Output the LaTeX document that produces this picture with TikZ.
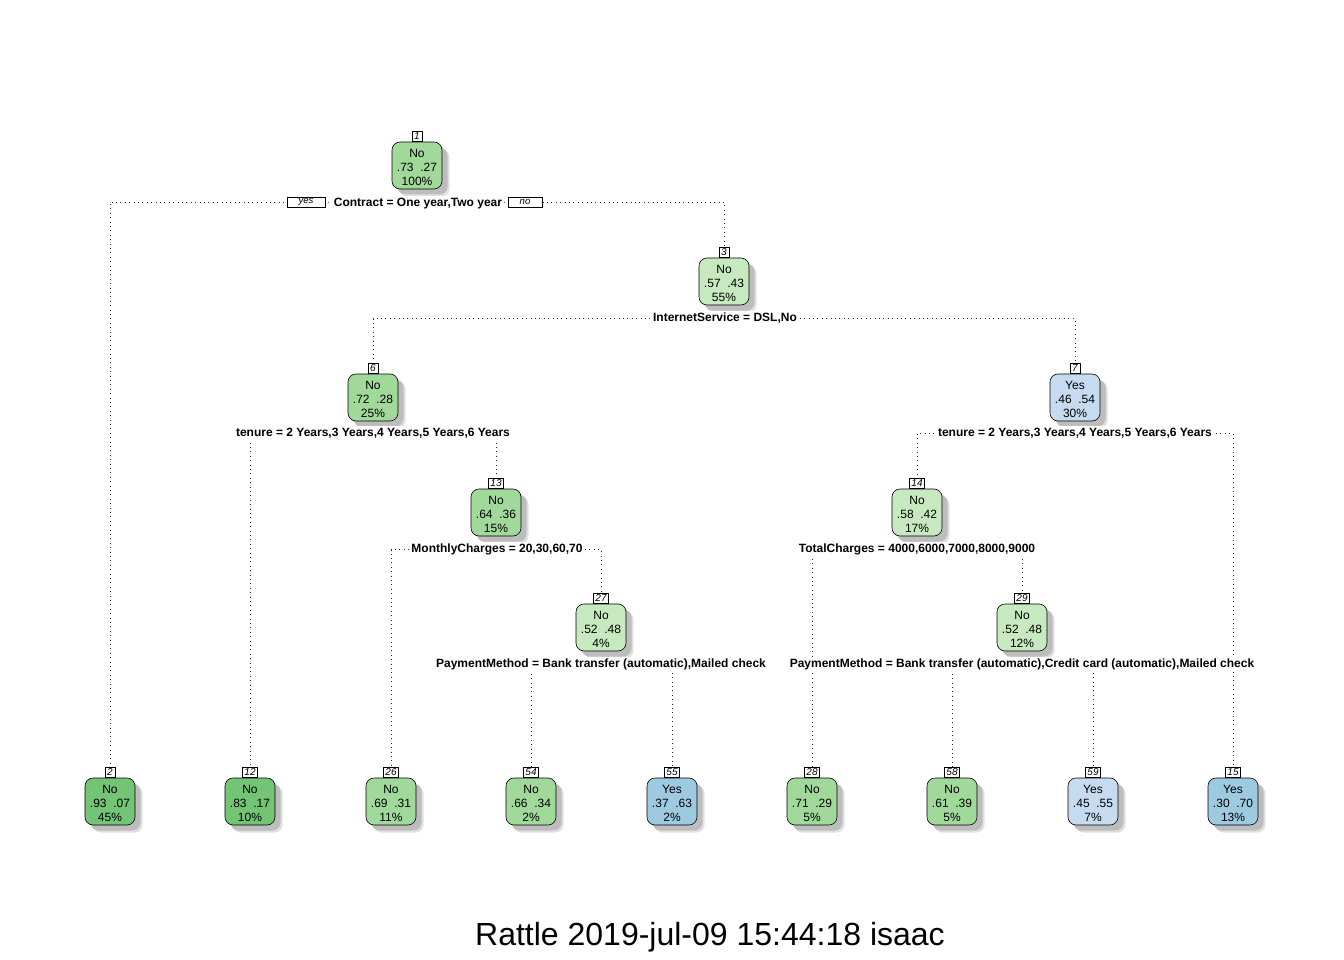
\documentclass[tikz,border=0pt]{standalone}
\usepackage{fontspec}
\setmainfont{Liberation Sans}
\usetikzlibrary{shadows}
\pgfdeclarelayer{bg}
\pgfsetlayers{bg,main}
\definecolor{gdark}{HTML}{74C476}
\definecolor{gmid}{HTML}{A1D99B}
\definecolor{glight}{HTML}{C7E9C0}
\definecolor{blight}{HTML}{C6DBEF}
\definecolor{bmid}{HTML}{9ECAE1}
\newcommand{\tstrut}{\rule{0pt}{12pt}}
\begin{document}
\begin{tikzpicture}[x=1pt,y=-1pt,
  treebox/.style={draw=black, line width=0.6pt, rounded corners=8pt,
    minimum width=50pt, minimum height=47pt, inner sep=0pt, align=center,
    font=\fontsize{12}{14}\selectfont,
    drop shadow={shadow xshift=7.5pt, shadow yshift=-7.5pt, fill=black!12, opacity=1},
    drop shadow={shadow xshift=5.5pt, shadow yshift=-5.5pt, fill=black!26, opacity=1}},
  numbox/.style={draw=black, line width=0.5pt, fill=white, inner xsep=2pt, inner ysep=0.6pt,
    minimum width=10pt, minimum height=10pt, font=\fontsize{10}{11}\selectfont\itshape, anchor=south},
  yesno/.style={draw=black, line width=0.5pt, fill=white, inner sep=0.6pt, minimum height=10pt,
    font=\fontsize{9.6}{10}\selectfont\itshape},
  split/.style={fill=white, inner xsep=1.5pt, inner ysep=2pt,
    font=\fontsize{12}{14}\selectfont\bfseries},
  edge/.style={line width=0.7pt, black!85, dash pattern=on 0.8pt off 3.6pt}
]
\useasboundingbox (0,0) rectangle (1344,960);

% internal nodes
\node[treebox, fill=gmid] (n1) at (417,165.5) {\tstrut No\\.73\ \ .27\\100\%};
\node[numbox] (l1) at (n1.north) {1};
\node[treebox, fill=glight] (n3) at (724,281.5) {\tstrut No\\.57\ \ .43\\55\%};
\node[numbox] (l3) at (n3.north) {3};
\node[treebox, fill=gmid] (n6) at (373,397.5) {\tstrut No\\.72\ \ .28\\25\%};
\node[numbox] (l6) at (n6.north) {6};
\node[treebox, fill=blight] (n7) at (1075,397.5) {\tstrut Yes\\.46\ \ .54\\30\%};
\node[numbox] (l7) at (n7.north) {7};
\node[treebox, fill=gmid] (n13) at (496,512.5) {\tstrut No\\.64\ \ .36\\15\%};
\node[numbox] (l13) at (n13.north) {13};
\node[treebox, fill=glight] (n14) at (917,512.5) {\tstrut No\\.58\ \ .42\\17\%};
\node[numbox] (l14) at (n14.north) {14};
\node[treebox, fill=glight] (n27) at (601,627.5) {\tstrut No\\.52\ \ .48\\4\%};
\node[numbox] (l27) at (n27.north) {27};
\node[treebox, fill=glight] (n29) at (1022,627.5) {\tstrut No\\.52\ \ .48\\12\%};
\node[numbox] (l29) at (n29.north) {29};

% leaves
\node[treebox, fill=gdark] (n2) at (110,801.5) {\tstrut No\\.93\ \ .07\\45\%};
\node[numbox] (l2) at (n2.north) {2};
\node[treebox, fill=gdark] (n12) at (250,801.5) {\tstrut No\\.83\ \ .17\\10\%};
\node[numbox] (l12) at (n12.north) {12};
\node[treebox, fill=gmid] (n26) at (391,801.5) {\tstrut No\\.69\ \ .31\\11\%};
\node[numbox] (l26) at (n26.north) {26};
\node[treebox, fill=gmid] (n54) at (531,801.5) {\tstrut No\\.66\ \ .34\\2\%};
\node[numbox] (l54) at (n54.north) {54};
\node[treebox, fill=bmid] (n55) at (672,801.5) {\tstrut Yes\\.37\ \ .63\\2\%};
\node[numbox] (l55) at (n55.north) {55};
\node[treebox, fill=gmid] (n28) at (812,801.5) {\tstrut No\\.71\ \ .29\\5\%};
\node[numbox] (l28) at (n28.north) {28};
\node[treebox, fill=gmid] (n58) at (952,801.5) {\tstrut No\\.61\ \ .39\\5\%};
\node[numbox] (l58) at (n58.north) {58};
\node[treebox, fill=blight] (n59) at (1093,801.5) {\tstrut Yes\\.45\ \ .55\\7\%};
\node[numbox] (l59) at (n59.north) {59};
\node[treebox, fill=bmid] (n15) at (1233,801.5) {\tstrut Yes\\.30\ \ .70\\13\%};
\node[numbox] (l15) at (n15.north) {15};

% split labels
\node[split] (s1) at (418,203.5) {Contract = One year,Two year};
\node[yesno, minimum width=38pt] (yes) at (306,202) {yes};
\node[yesno, minimum width=34pt] (no) at (525,202) {no};
\node[split] (s3) at (725,318.5) {InternetService = DSL,No};
\node[split] (s6) at (373,433.5) {tenure = 2 Years,3 Years,4 Years,5 Years,6 Years};
\node[split] (s7) at (1075,433.5) {tenure = 2 Years,3 Years,4 Years,5 Years,6 Years};
\node[split] (s13) at (497,549.5) {MonthlyCharges = 20,30,60,70};
\node[split] (s14) at (917,549.5) {TotalCharges = 4000,6000,7000,8000,9000};
\node[split] (s27) at (601,664.5) {PaymentMethod = Bank transfer (automatic),Mailed check};
\node[split] (s29) at (1022,664.5) {PaymentMethod = Bank transfer (automatic),Credit card (automatic),Mailed check};

% connectors
\begin{pgfonlayer}{bg}
\draw[edge] (yes.center) -| (l2.north);
\draw[edge] (yes.center) -- (s1.center) -- (no.center);
\draw[edge] (no.center) -| (l3.north);
\draw[edge] (s3.center) -| (l6.north);
\draw[edge] (s3.center) -| (l7.north);
\draw[edge] (s6.center) -| (l12.north);
\draw[edge] (s6.center) -| (l13.north);
\draw[edge] (s7.center) -| (l14.north);
\draw[edge] (s7.center) -| (l15.north);
\draw[edge] (s13.center) -| (l26.north);
\draw[edge] (s13.center) -| (l27.north);
\draw[edge] (s14.center) -| (l28.north);
\draw[edge] (s14.center) -| (l29.north);
\draw[edge] (s27.center) -| (l54.north);
\draw[edge] (s27.center) -| (l55.north);
\draw[edge] (s29.center) -| (l58.north);
\draw[edge] (s29.center) -| (l59.north);
\end{pgfonlayer}

\node[font=\fontsize{32}{38}\selectfont] (title) at (710,937) {Rattle 2019-jul-09 15:44:18 isaac};
\end{tikzpicture}
\end{document}
